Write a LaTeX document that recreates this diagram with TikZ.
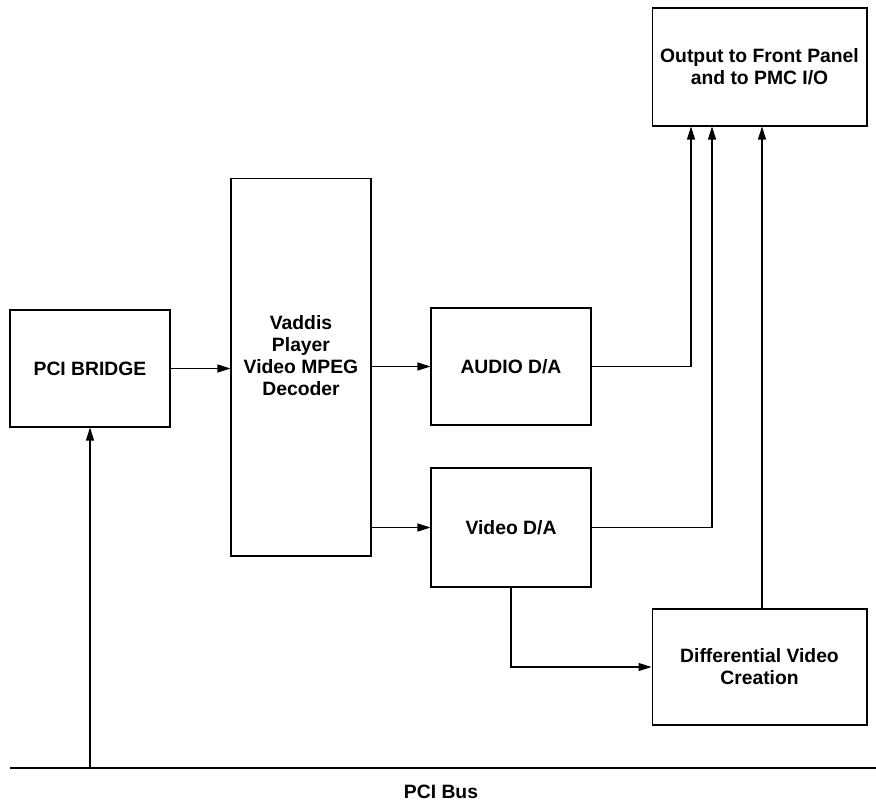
\documentclass[tikz,border=0pt]{standalone}
\usepackage{fontspec}
\setmainfont{Liberation Sans}
\usetikzlibrary{arrows.meta}

\begin{document}
\begin{tikzpicture}[
        x=0.02cm, y=-0.02cm,
        block/.style={
            draw,
            rectangle,
            line width=0.6pt,
            align=center,
            inner sep=0pt,
            font=\fontsize{11}{12.6}\selectfont\bfseries
        },
        arrow/.style={
            -{Triangle[length=2.6mm,width=1.6mm]},
            line width=0.6pt
        },
        wire/.style={
            line width=0.7pt
        },
        buslabel/.style={
            font=\fontsize{11}{12.6}\selectfont\bfseries
        }
    ]
        \useasboundingbox (0,0) rectangle (876,802);

        \node (bridge) [block, minimum width=3.2cm, minimum height=2.34cm] at (90,368.5) {PCI BRIDGE};
        \node (vaddis) [block, minimum width=2.8cm, minimum height=7.56cm,
            label={[block, draw=none, yshift=0.23cm]center:Vaddis\\Player\\Video MPEG\\Decoder}] at (301,367) {};
        \node (audio) [block, minimum width=3.2cm, minimum height=2.34cm] at (511,366.5) {AUDIO D/A};
        \node (video) [block, minimum width=3.2cm, minimum height=2.38cm] at (511,527.5) {Video D/A};
        \node (output) [block, minimum width=4.3cm, minimum height=2.36cm] at (759.5,67) {Output to Front Panel\\and to PMC I/O};
        \node (diff) [block, minimum width=4.3cm, minimum height=2.32cm] at (759.5,667) {Differential Video\\Creation};

        % bus
        \coordinate (busL) at (10,768);
        \coordinate (busR) at (876,768);
        \draw[wire] (busL) -- (busR);
        \node (bus) [buslabel] at (441,792) {PCI Bus};

        \draw[arrow] (bridge.south |- busL) -- (bridge.south);
        \draw[arrow] (bridge.east) -- (vaddis.west |- bridge.east);
        \draw[arrow] (vaddis.east |- audio.west) -- (audio.west);
        \draw[arrow] (vaddis.east |- video.west) -- (video.west);
        \draw[arrow] (audio.east) -| ([xshift=-1.37cm]output.south);
        \draw[arrow] (video.east) -| ([xshift=-0.95cm]output.south);
        \draw[arrow] ([xshift=0.05cm]diff.north) -- ([xshift=0.05cm]output.south);
        \draw[arrow] (video.south) |- (diff.west);
    \end{tikzpicture}
\end{document}
